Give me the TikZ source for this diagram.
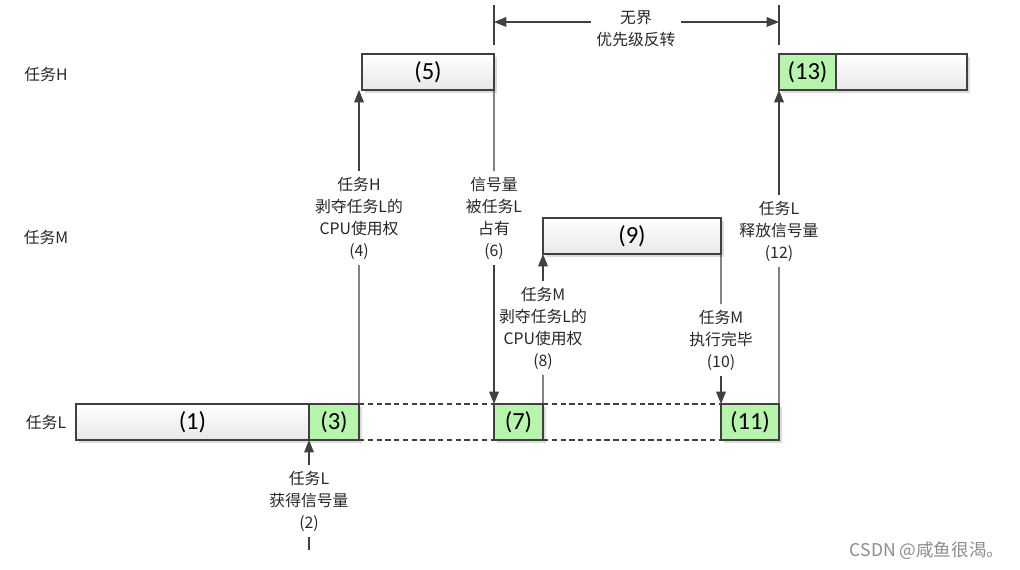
\documentclass[tikz,border=0pt]{standalone}
\usepackage{fontspec}
\setmainfont{Noto Sans CJK SC}
\newfontfamily\numfont{Carlito}
\usetikzlibrary{arrows.meta,shadows}

\definecolor{lineGray}{RGB}{64,64,64}
\definecolor{runGreen}{RGB}{184,245,172}

\tikzset{
	boxbase/.style={draw=lineGray, line width=0.6pt, minimum height=0.72cm, inner sep=0pt, outer sep=0pt, anchor=north west,
		font=\numfont\fontsize{14}{16}\selectfont,
		drop shadow={shadow xshift=1.6pt, shadow yshift=-1.6pt, fill=black!14, opacity=1}},
	taskbox/.style={boxbase, top color=white, bottom color=black!9},
	greenbox/.style={boxbase, fill=runGreen},
	rowname/.style={font=\fontsize{9}{11}\selectfont, text=black!85},
	note/.style={align=center, font=\fontsize{9}{12.5}\selectfont, inner sep=3pt, text=black!85},
	link/.style={draw=lineGray, line width=0.6pt},
	arr/.style={-{Triangle[width=5.5pt,length=7pt]}},
}

\begin{document}
\begin{tikzpicture}[x=0.02cm, y=-0.02cm]
		%%%%% START %%%%%
		\useasboundingbox (0,0) rectangle (1020,570);
		
		% row names
		\node[rowname] (rowH) at (46,74) {任务H};
		\node[rowname] (rowM) at (46,237) {任务M};
		\node[rowname] (rowL) at (46,422) {任务L};
		
		% task L
		\node[taskbox, minimum width=4.66cm] (l1) at (76,404) {(1)};
		\node[greenbox, minimum width=1.0cm] (l3) at (309,404) {(3)};
		\node[greenbox, minimum width=0.98cm] (l7) at (494,404) {(7)};
		\node[greenbox, minimum width=1.16cm] (l11) at (721,404) {(11)};
		
		% task H
		\node[taskbox, minimum width=2.64cm] (h5) at (362,54) {(5)};
		\node[greenbox, minimum width=1.14cm] (h13) at (779,54) {(13)};
		\node[taskbox, minimum width=2.62cm] (h13r) at (836,54) {};
		
		% task M
		\node[taskbox, minimum width=3.56cm] (m9) at (543,218) {(9)};
		
		\draw[link, dash pattern=on 3pt off 2pt] (l3.north east) -- (l7.north west);
		\draw[link, dash pattern=on 3pt off 2pt] (l3.south east) -- (l7.south west);
		\draw[link, dash pattern=on 3pt off 2pt] (l7.north east) -- (l11.north west);
		\draw[link, dash pattern=on 3pt off 2pt] (l7.south east) -- (l11.south west);
		
		% events
		\node[note] (n2) at (309,501) {任务L\\获得信号量\\(2)};
		\coordinate (c2) at (309,550);
		\draw[link] (c2) -- (n2);
		\draw[link, arr] (n2) -- (l3.south west);
		
		\node[note] (n4) at (359,218) {任务H\\剥夺任务L的\\CPU使用权\\(4)};
		\draw[link] (l3.north east) -- (n4);
		\draw[link, arr] (n4) -- (n4 |- h5.south);
		
		\node[note] (n6) at (494,218) {信号量\\被任务L\\占有\\(6)};
		\draw[link] (h5.south east) -- (n6);
		\draw[link, arr] (n6) -- (l7.north west);
		
		\node[note] (n8) at (543,328) {任务M\\剥夺任务L的\\CPU使用权\\(8)};
		\draw[link] (l7.north east) -- (n8);
		\draw[link, arr] (n8) -- (m9.south west);
		
		\node[note] (n10) at (721,340) {任务M\\执行完毕\\(10)};
		\draw[link] (m9.south east) -- (n10);
		\draw[link, arr] (n10) -- (l11.north west);
		
		\node[note] (n12) at (779,231) {任务L\\释放信号量\\(12)};
		\draw[link] (l11.north east) -- (n12);
		\draw[link, arr] (n12) -- (h13.south west);
		
		% unbounded span
		\coordinate (s1) at (494,5);
		\coordinate (e1) at (494,45);
		\coordinate (s2) at (779,5);
		\coordinate (e2) at (779,45);
		\coordinate (a1) at (494,22);
		\coordinate (a2) at (779,22);
		\draw[link] (s1) -- (e1);
		\draw[link] (s2) -- (e2);
		\node[note] (span) at (636,29) {无界\\优先级反转};
		\draw[link, arr] (span.west |- a1) -- (a1);
		\draw[link, arr] (span.east |- a2) -- (a2);
		
		\node[font=\fontsize{10}{12}\selectfont, text=black!45] (mark) at (927,551) {CSDN @咸鱼很渴。};
		%%%%% END %%%%%
\end{tikzpicture}
\end{document}
